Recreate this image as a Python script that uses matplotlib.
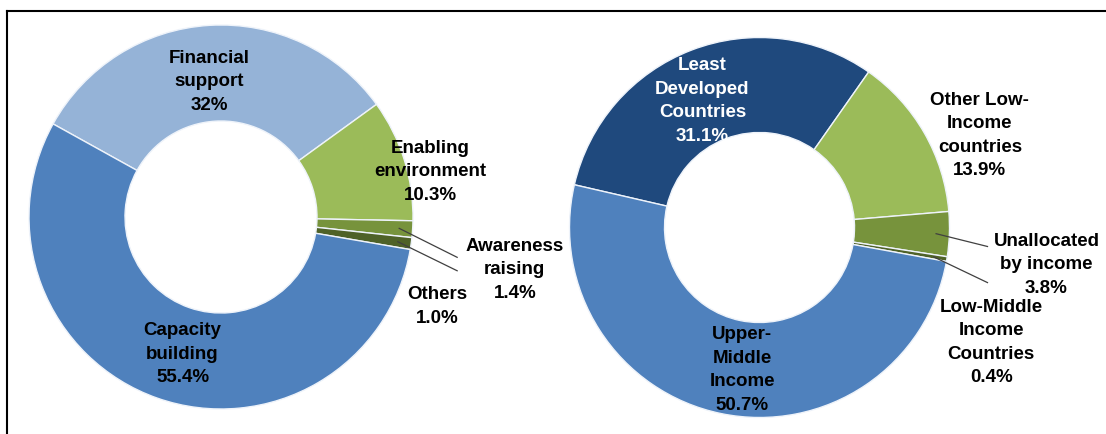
import matplotlib.pyplot as plt
from matplotlib.lines import Line2D
import numpy as np

# share of support by type of activity (%)
activity_names = ["Financial\nsupport", "Enabling\nenvironment", "Awareness\nraising",
                  "Others", "Capacity\nbuilding"]
activity_shares = [32.0, 10.3, 1.4, 1.0, 55.4]
activity_decimals = [0, 1, 1, 1, 1]

# share of support by income group of recipient (%)
income_names = ["Least\nDeveloped\nCountries", "Other Low-\nIncome\ncountries",
                "Unallocated\nby income", "Low-Middle\nIncome\nCountries",
                "Upper-\nMiddle\nIncome"]
income_shares = [31.1, 13.9, 3.8, 0.4, 50.7]
income_decimals = [1, 1, 1, 1, 1]

W, H = 1106, 435
fig = plt.figure(figsize=(W / 100, H / 100), dpi=100)
plt.rcParams["font.family"] = ["Liberation Sans", "DejaVu Sans"]


def donut(cx, cy, r, values, names, decimals, colors, start, label_pos, text_colors, leaders):
    # square axes box centred on (cx, cy) in pixels, one data unit = ring radius
    s = 420
    ax = fig.add_axes([(cx - s) / W, (H - cy - s) / H, 2 * s / W, 2 * s / H])
    wedges, _ = ax.pie(values, startangle=start, counterclock=False, radius=1,
                       colors=colors,
                       wedgeprops=dict(width=0.5, edgecolor="#eef3fa", linewidth=1.0))
    ax.set_xlim(-s / r, s / r)
    ax.set_ylim(-s / r, s / r)
    ax.axis("off")
    ax.set_facecolor("none")
    for name, v, d, (x, y), tc in zip(names, values, decimals, label_pos, text_colors):
        ax.text(x, y, f"{name}\n{v:.{d}f}%", ha="center", va="center",
                fontsize=13.5, fontweight="bold", color=tc, linespacing=1.5)
    for i, (ex, ey) in leaders:
        w = wedges[i]
        mid = np.deg2rad((w.theta1 + w.theta2) / 2)
        ax.plot([0.93 * np.cos(mid), ex], [0.93 * np.sin(mid), ey],
                color="#404040", lw=0.9, clip_on=False)
    return ax


green = ["#9bbb59", "#77933c", "#4f6228"]

donut(221, 218, 192, activity_shares, activity_names, activity_decimals,
      ["#95b3d7"] + green + ["#4f81bd"], 151,
      [(-0.06, 0.71), (1.09, 0.24), (1.53, -0.27), (1.125, -0.46), (-0.20, -0.71)],
      ["black"] * 5,
      [(2, (1.23, -0.21)), (3, (1.23, -0.28))])

donut(759.5, 228.5, 190, income_shares, income_names, income_decimals,
      ["#1f497d"] + green + ["#4f81bd"], 167,
      [(-0.30, 0.67), (1.16, 0.49), (1.51, -0.19), (1.22, -0.60), (-0.09, -0.745)],
      ["white"] + ["black"] * 4,
      [(2, (1.20, -0.10)), (3, (1.20, -0.29))])

# frame lines on the left and top edges
fig.add_artist(Line2D([7 / W, 7 / W], [0, 1 - 12 / H], color="black", lw=1.5))
fig.add_artist(Line2D([7 / W, 1], [1 - 12 / H, 1 - 12 / H], color="black", lw=1.5))

fig.savefig("out.png", dpi=100)
